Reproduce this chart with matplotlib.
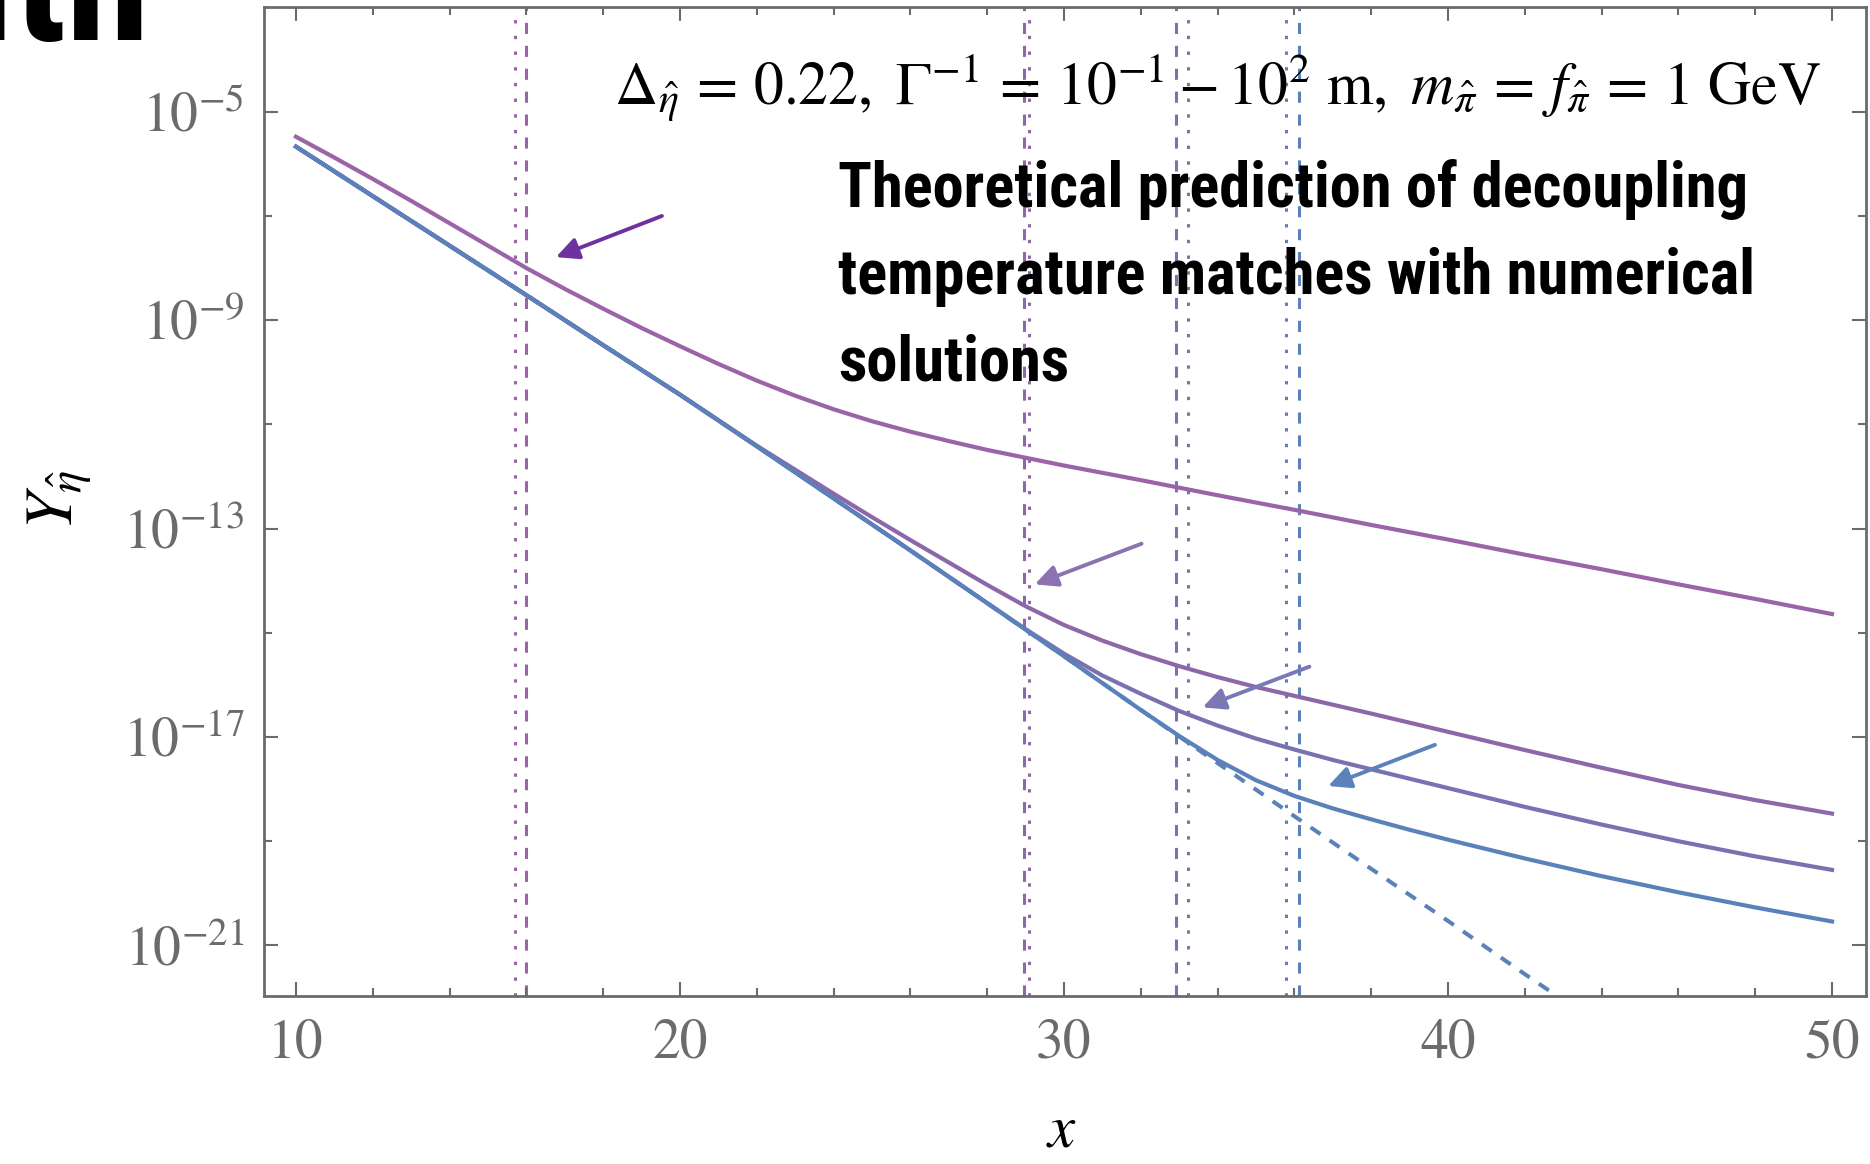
import matplotlib
matplotlib.use('Agg')
import numpy as np
import matplotlib.pyplot as plt
from matplotlib import font_manager
from matplotlib.ticker import FixedLocator, FixedFormatter, NullFormatter

plt.rcParams['mathtext.fontset'] = 'stix'
plt.rcParams['font.family'] = 'STIXGeneral'
plt.rcParams['lines.scale_dashes'] = False

# log10 of the yield along x, one list per curve
x_a = [10, 11, 12, 13, 14, 15, 16, 17, 18, 19, 20, 21, 22, 23, 24, 25, 26, 27, 28, 29, 30,
       31, 32, 34, 36, 38, 40, 42, 44, 46, 48, 50]
logy_a = [-5.48, -5.88, -6.29, -6.71, -7.14, -7.57, -8.00, -8.40, -8.78, -9.15, -9.50,
          -9.84, -10.16, -10.45, -10.71, -10.94, -11.14, -11.32, -11.49, -11.64, -11.79,
          -11.93, -12.07, -12.36, -12.64, -12.93, -13.21, -13.50, -13.78, -14.07, -14.35, -14.64]

x_b = [10, 12, 14, 16, 18, 20, 22, 24, 25, 26, 27, 28, 29, 30, 31, 32, 33, 34, 35, 36,
       38, 40, 42, 44, 46, 48, 50]
logy_b = [-5.67, -6.62, -7.57, -8.52, -9.48, -10.43, -11.41, -12.33, -12.78, -13.22, -13.65,
          -14.08, -14.49, -14.85, -15.15, -15.41, -15.64, -15.85, -16.04, -16.21,
          -16.55, -16.90, -17.25, -17.59, -17.92, -18.21, -18.47]

x_c = [10, 12, 14, 16, 18, 20, 22, 24, 26, 28, 29, 30, 31, 32, 33, 34, 35, 36, 37, 38,
       40, 42, 44, 46, 48, 50]
logy_c = [-5.67, -6.62, -7.57, -8.52, -9.48, -10.43, -11.42, -12.42, -13.42, -14.43, -14.93,
          -15.40, -15.82, -16.17, -16.50, -16.78, -17.03, -17.24, -17.44, -17.62,
          -17.98, -18.34, -18.68, -19.00, -19.29, -19.55]

x_d = [10, 12, 14, 16, 18, 20, 22, 24, 26, 28, 30, 32, 33, 34, 35, 36, 37, 38, 39,
       40, 42, 44, 46, 48, 50]
logy_d = [-5.67, -6.62, -7.57, -8.52, -9.48, -10.43, -11.42, -12.42, -13.42, -14.43, -15.45,
          -16.48, -16.98, -17.44, -17.83, -18.13, -18.37, -18.58, -18.78,
          -18.97, -19.33, -19.67, -19.98, -20.27, -20.54]

# equilibrium curve
x_eq = [10, 12, 14, 16, 18, 20, 22, 24, 26, 28, 30, 32, 34, 36, 38, 40, 42, 43]
logy_eq = [-5.67, -6.62, -7.57, -8.52, -9.48, -10.43, -11.42, -12.42, -13.42, -14.43, -15.45,
           -16.48, -17.50, -18.52, -19.53, -20.53, -21.55, -22.05]

# decoupling temperatures: theory (dashed) and numerical (dotted)
x_dec_theory = [15.99, 28.97, 32.91, 36.13]
x_dec_numeric = [15.71, 29.08, 33.23, 35.79]

# arrows: (tail x, tail log10 y, tip x, tip log10 y)
arrows = [(19.53, -7.00, 16.77, -7.79),
          (32.02, -13.29, 29.24, -14.07),
          (36.39, -15.65, 33.61, -16.43),
          (39.66, -17.15, 36.88, -17.94)]

colors = ['#9b64a7', '#8c68a9', '#7a72b0', '#5b81bb']
arrow_colors = ['#7031a0', '#8c72b0', '#7b78b6', '#5b82bb']

x_ticks = [10, 20, 30, 40, 50]
x_minor = [12, 14, 16, 18, 22, 24, 26, 28, 32, 34, 36, 38, 42, 44, 46, 48]
y_ticks = [1e-5, 1e-9, 1e-13, 1e-17, 1e-21]
y_tick_labels = ['$10^{-5}$', '$10^{-9}$', '$10^{-13}$', '$10^{-17}$', '$10^{-21}$']
y_minor = [1e-7, 1e-11, 1e-15, 1e-19]


def narrow_font():
    names = {f.name for f in font_manager.fontManager.ttflist}
    for name in ['Roboto Condensed', 'Liberation Sans Narrow', 'DejaVu Sans Condensed']:
        if name in names:
            return name
    return 'DejaVu Sans'


W, H = 1870, 1164
fig = plt.figure(figsize=(W / 100, H / 100), dpi=100)
ax = fig.add_axes([264 / W, 1 - 996 / H, 1602 / W, 989 / H])
ax.set_yscale('log')

gray = '#6b6b6b'

for xv, c in zip(x_dec_theory, colors):
    ax.axvline(xv, color=c, lw=2.2, dashes=(8, 8.5), zorder=1)
for xv, c in zip(x_dec_numeric, colors):
    ax.axvline(xv, color=c, lw=2.2, dashes=(2.4, 8.9), zorder=1)

curves = [(x_a, logy_a), (x_b, logy_b), (x_c, logy_c), (x_d, logy_d)]
for (xs, ly), c in zip(curves, colors):
    ax.plot(xs, 10.0 ** np.array(ly), color=c, lw=3.0, zorder=3,
            solid_joinstyle='round')
ax.plot(x_eq, 10.0 ** np.array(logy_eq), color=colors[3], lw=2.9,
        dashes=(8.6, 8), zorder=2)

for (x0, y0, x1, y1), c in zip(arrows, arrow_colors):
    ax.annotate('', xy=(x1, 10.0 ** y1), xytext=(x0, 10.0 ** y0),
                arrowprops=dict(arrowstyle='-|>,head_length=0.45,head_width=0.22',
                                color=c, lw=2.8, mutation_scale=30,
                                shrinkA=0, shrinkB=0), zorder=4)

ax.set_xlim(9.167, 50.885)
ax.set_ylim(10 ** -21.97, 10 ** -2.99)

ax.xaxis.set_major_locator(FixedLocator(x_ticks))
ax.xaxis.set_minor_locator(FixedLocator(x_minor))
ax.yaxis.set_major_locator(FixedLocator(y_ticks))
ax.yaxis.set_major_formatter(FixedFormatter(y_tick_labels))
ax.yaxis.set_minor_locator(FixedLocator(y_minor))
ax.yaxis.set_minor_formatter(NullFormatter())

for s in ax.spines.values():
    s.set_color(gray)
    s.set_linewidth(2.0)
ax.tick_params(which='both', direction='in', top=True, right=True,
               color=gray, width=1.5, labelcolor=gray, labelsize=40)
ax.tick_params(which='major', length=10)
ax.tick_params(which='minor', length=5.5)
ax.tick_params(axis='x', pad=16)
ax.tick_params(axis='y', pad=14)

ax.set_xlabel('$x$', fontsize=44, va='center')
ax.xaxis.set_label_coords((1061 - 264) / 1602, -(1132 - 996) / 989)
ax.set_ylabel(r'$Y_{\hat{\eta}}$', fontsize=48, va='center')
ax.yaxis.set_label_coords((60 - 264) / 1602, (996 - 500) / 989)

ax.text((1821 - 264) / 1602, (996 - 87) / 989,
        r'$\Delta_{\hat{\eta}}\,=\,0.22,\ \Gamma^{-1}\,=\,10^{-1}-10^{2}\ \mathrm{m},\ '
        r'm_{\hat{\pi}}\,=\,f_{\hat{\pi}}\,=\,1\ \mathrm{GeV}$',
        transform=ax.transAxes, ha='right', va='center', fontsize=43, zorder=5)

nf = narrow_font()
note = ['Theoretical prediction of decoupling',
        'temperature matches with numerical',
        'solutions']
for i, line in enumerate(note):
    fig.text(838 / W, 1 - (207 + 87 * i) / H, line, ha='left', va='baseline',
             family=nf, weight='bold', stretch='condensed', fontsize=45, color='black')

fig.text(150 / W, 1 - 40 / H, 'with', ha='right', va='baseline',
         family=nf, weight='bold', stretch='condensed', fontsize=122, color='black')

fig.savefig('out.png', dpi=100)
